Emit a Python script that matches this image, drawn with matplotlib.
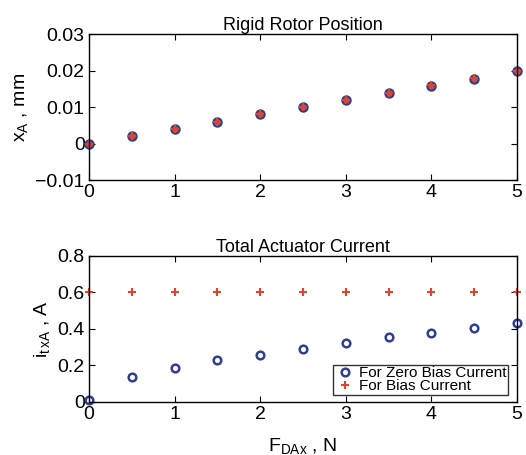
import matplotlib
matplotlib.use('Agg')
import matplotlib.pyplot as plt

plt.rcParams['font.family'] = ['Liberation Sans', 'DejaVu Sans']
plt.rcParams['mathtext.fontset'] = 'custom'
plt.rcParams['mathtext.rm'] = 'Liberation Sans'
plt.rcParams['mathtext.it'] = 'Liberation Sans'

# data
force = [0, 0.5, 1, 1.5, 2, 2.5, 3, 3.5, 4, 4.5, 5]
pos_zero_bias = [0, 0.002, 0.004, 0.006, 0.008, 0.010, 0.012, 0.014, 0.0158, 0.0178, 0.0198]
pos_bias = [0, 0.002, 0.004, 0.006, 0.008, 0.010, 0.012, 0.014, 0.016, 0.018, 0.020]
cur_zero_bias = [0.01, 0.135, 0.185, 0.228, 0.26, 0.292, 0.325, 0.355, 0.378, 0.405, 0.43]
cur_bias = [0.6, 0.6, 0.6, 0.6, 0.6, 0.6, 0.6, 0.6, 0.6, 0.6, 0.6]

blue = '#2e3f8f'
red = '#e0442a'

fig = plt.figure(figsize=(5.26, 4.55), dpi=100)
ax1 = fig.add_axes([0.169, 0.604, 0.814, 0.321])
ax2 = fig.add_axes([0.169, 0.1165, 0.814, 0.321])

for ax in (ax1, ax2):
    ax.tick_params(direction='in', top=True, right=True, labelsize=14, length=4, pad=3)
    ax.set_xlim(0, 5)
    ax.set_xticks([0, 1, 2, 3, 4, 5])
    for s in ax.spines.values():
        s.set_linewidth(1.0)

# top panel
ax1.plot(force, pos_zero_bias, 'o', ms=6, mfc='#c0504a', mec=blue, mew=1.5, clip_on=False)
ax1.plot(force, pos_bias, '+', ms=6, color=red, mew=1.5, clip_on=False)
ax1.set_ylim(-0.01, 0.03)
ax1.set_yticks([-0.01, 0, 0.01, 0.02, 0.03])
ax1.set_yticklabels(['\u22120.01', '0', '0.01', '0.02', '0.03'])
ax1.set_title('Rigid Rotor Position', fontsize=13, pad=3)
ax1.set_ylabel(r'x$_A$ , mm', fontsize=14)

# bottom panel
ax2.plot(force, cur_zero_bias, 'o', ms=5.5, mfc='none', mec=blue, mew=1.8,
         clip_on=False, label='For Zero Bias Current')
ax2.plot(force, cur_bias, '+', ms=6, color=red, mew=1.5,
         clip_on=False, label='For Bias Current')
ax2.set_ylim(0, 0.8)
ax2.set_yticks([0, 0.2, 0.4, 0.6, 0.8])
ax2.set_yticklabels(['0', '0.2', '0.4', '0.6', '0.8'])
ax2.set_title('Total Actuator Current', fontsize=13, pad=3)
ax2.set_ylabel(r'i$_{t\,xA}$ , A', fontsize=14)
ax2.set_xlabel(r'F$_{DAx}$ , N', fontsize=14, labelpad=9)

leg = ax2.legend(loc='lower right', bbox_to_anchor=(0.98, 0.05), fontsize=11,
                 frameon=True, fancybox=False, borderpad=0.12, labelspacing=-0.1,
                 handletextpad=0.2, handlelength=1.4, borderaxespad=0)
leg.get_frame().set_edgecolor('black')
leg.get_frame().set_linewidth(1.0)

fig.savefig('out.png', dpi=100)
